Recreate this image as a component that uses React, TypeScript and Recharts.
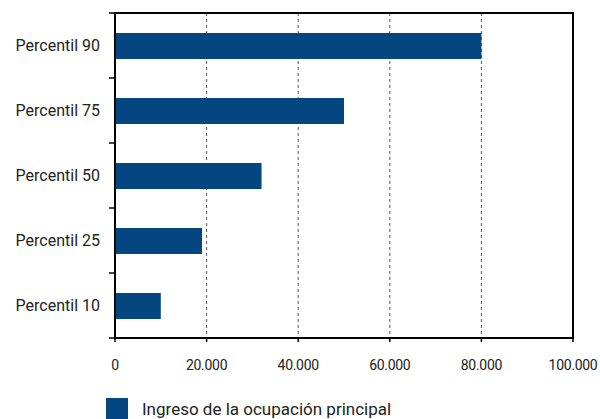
import React from 'react';
import {
  BarChart,
  Bar,
  XAxis,
  YAxis,
  CartesianGrid,
  Legend,
  ReferenceArea,
} from 'recharts';

const categories = ['Percentil 90', 'Percentil 75', 'Percentil 50', 'Percentil 25', 'Percentil 10'];
const ingreso = [80000, 50000, 32000, 19000, 10000];
const xTicks = [0, 20000, 40000, 60000, 80000, 100000];
const seriesName = 'Ingreso de la ocupación principal';

const data = categories.map((name, i) => ({ name, ingreso: ingreso[i] }));

const WIDTH = 600;
const HEIGHT = 419;
const MARGIN = { top: 13, right: 27, left: 0, bottom: 0 };
const X_AXIS_HEIGHT = 40;
const LEGEND_HEIGHT = 41;
const BAND = (HEIGHT - MARGIN.top - MARGIN.bottom - X_AXIS_HEIGHT - LEGEND_HEIGHT) / categories.length;
const BLUE = '#04467f';
const FONT = 'Roboto, "Noto Sans", sans-serif';

const fmt = (v: number) => v.toLocaleString('de-DE');

function CategoryTick(props: any) {
  const { y, payload, index } = props;
  const axisX = 115;
  return (
    <g>
      <line x1={axisX - 6} x2={axisX} y1={y - BAND / 2} y2={y - BAND / 2} stroke="#000" strokeWidth={1.5} />
      {index === categories.length - 1 && (
        <line x1={axisX - 6} x2={axisX} y1={y + BAND / 2} y2={y + BAND / 2} stroke="#000" strokeWidth={1.5} />
      )}
      <text x={100} y={y} dy="0.36em" textAnchor="end" fill="#222" fontSize={16} fontFamily={FONT}>
        {payload.value}
      </text>
    </g>
  );
}

function LegendContent() {
  return (
    <div
      style={{
        display: 'flex',
        alignItems: 'center',
        fontFamily: FONT,
        fontSize: 17,
        color: '#222',
        marginTop: 20,
        height: 22,
      }}
    >
      <span style={{ display: 'inline-block', width: 22, height: 22, background: BLUE, marginLeft: 106, marginRight: 14 }} />
      <span>{seriesName}</span>
    </div>
  );
}

export default function App() {
  return (
    <div style={{ position: 'absolute', left: 0, top: 0, background: '#fff' }}>
      <BarChart
        width={WIDTH}
        height={HEIGHT}
        data={data}
        layout="vertical"
        margin={MARGIN}
        barSize={26}
      >
        <CartesianGrid horizontal={false} stroke="#555" strokeDasharray="3 3" />
        <XAxis
          type="number"
          domain={[0, 100000]}
          ticks={xTicks}
          tickFormatter={fmt}
          height={X_AXIS_HEIGHT}
          axisLine={{ stroke: '#000', strokeWidth: 1.5 }}
          tickLine={{ stroke: '#000', strokeWidth: 1.5 }}
          tickSize={4}
          tickMargin={18}
          tick={{ fill: '#222', fontSize: 14, fontFamily: FONT, letterSpacing: -0.3 }}
        />
        <YAxis
          type="category"
          dataKey="name"
          width={115}
          axisLine={{ stroke: '#000', strokeWidth: 1.5 }}
          tickLine={false}
          tick={<CategoryTick />}
          interval={0}
        />
        <ReferenceArea x1={0} x2={100000} fill="none" stroke="#000" strokeWidth={2} ifOverflow="visible" />
        <Legend
          verticalAlign="bottom"
          align="left"
          height={LEGEND_HEIGHT}
          content={<LegendContent />}
          wrapperStyle={{ height: LEGEND_HEIGHT }}
        />
        <Bar dataKey="ingreso" name={seriesName} fill={BLUE} isAnimationActive={false} />
      </BarChart>
    </div>
  );
}
